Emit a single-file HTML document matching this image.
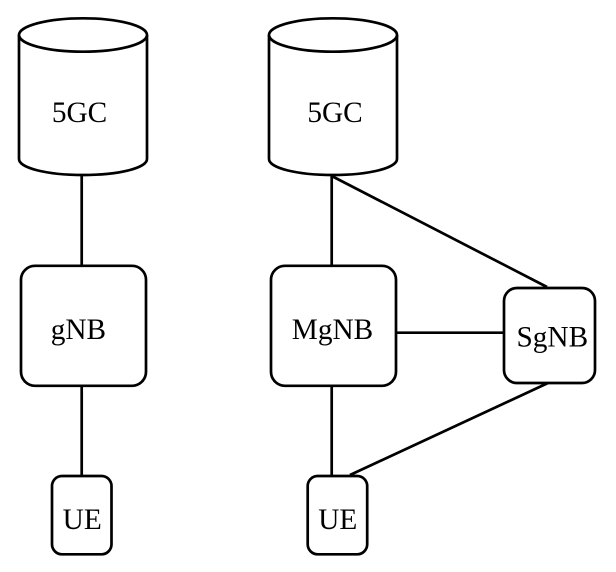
<!DOCTYPE html>
<html>
<head>
<meta charset="utf-8">
<style>
html,body{margin:0;padding:0;background:#fff;width:616px;height:572px;overflow:hidden}
svg{display:block}
text{font-family:"Liberation Serif",serif;font-size:29.3px;fill:#000;text-anchor:middle}
.s{fill:#fff;stroke:#000;stroke-width:2.7}
.l{stroke:#000;stroke-width:2.7;fill:none}
</style>
</head>
<body>
<svg width="616" height="572" viewBox="0 0 616 572" xmlns="http://www.w3.org/2000/svg">
<path class="l" d="M81.7 174V266M81.7 386V476"/>
<path class="l" d="M331.7 176V266M331.7 176L547 287M396 332.7H504M331.7 386V476M350 475L548 383"/>
<path class="s" d="M19 35V159C19 168 47 175 83 175C119 175 147 168 147 159V35"/>
<ellipse class="s" cx="83" cy="35" rx="64" ry="16.7"/>
<path class="s" d="M269 35V159C269 168 297 175 333 175C369 175 397 168 397 159V35"/>
<ellipse class="s" cx="333" cy="35" rx="64" ry="16.7"/>
<rect class="s" x="21" y="265.8" width="125" height="120" rx="14"/>
<rect class="s" x="271" y="265.8" width="125" height="120" rx="14"/>
<rect class="s" x="504" y="288" width="91" height="95" rx="13"/>
<rect class="s" x="52" y="476" width="59.5" height="78.3" rx="10"/>
<rect class="s" x="307.7" y="476" width="59.5" height="78.3" rx="10"/>
<text x="79.5" y="122">5GC</text>
<text x="335" y="122">5GC</text>
<text x="78.4" y="339">gNB</text>
<text x="332.5" y="339">MgNB</text>
<text x="552.3" y="346.7">SgNB</text>
<text x="82.2" y="529">UE</text>
<text x="337.8" y="529">UE</text>
</svg>
</body>
</html>
